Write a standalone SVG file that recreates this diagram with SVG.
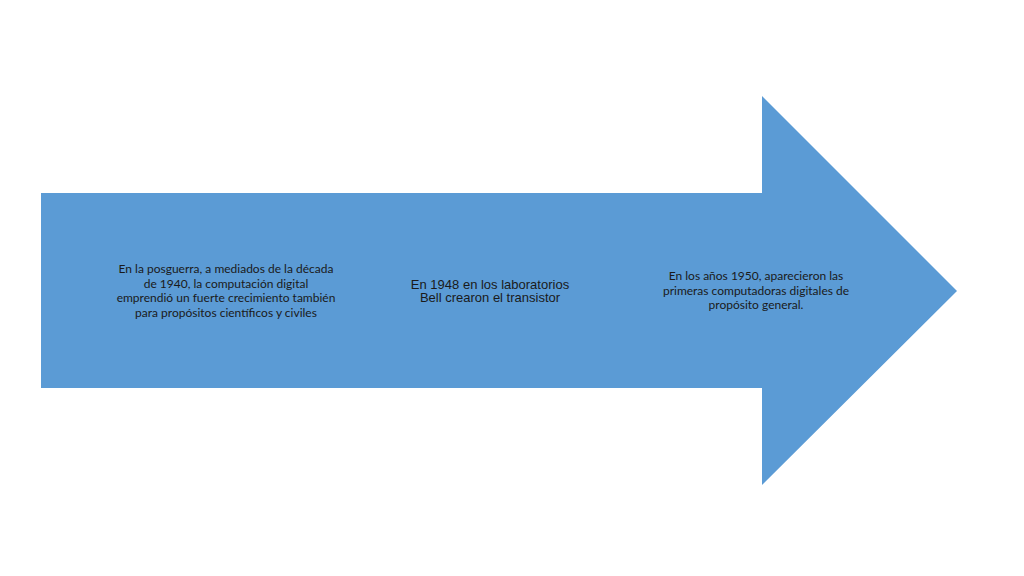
<svg xmlns="http://www.w3.org/2000/svg" width="1024" height="576" viewBox="0 0 1024 576">
<style>
.c{font-family:Lato,"Open Sans",sans-serif;font-size:12px;fill:#1a1a1a;text-anchor:middle}
.a{font-family:"Liberation Sans",Arial,sans-serif;font-size:13px;fill:#1a1a1a;text-anchor:middle}
</style>
<rect width="1024" height="576" fill="#ffffff"/>
<g id="arrow">
<polygon points="41,193 762,193 762,96 957,291 762,485 762,388 41,388" fill="#5b9bd5"/>
</g>
<g id="node1">
<text class="c" x="226" y="273">En la posguerra, a mediados de la década</text>
<text class="c" x="226" y="288">de 1940, la computación digital</text>
<text class="c" x="226" y="302">emprendió un fuerte crecimiento también</text>
<text class="c" x="226" y="317">para propósitos científicos y civiles</text>
</g>
<g id="node2">
<text class="a" x="490" y="289">En 1948 en los laboratorios</text>
<text class="a" x="490" y="302">Bell crearon el transistor</text>
</g>
<g id="node3">
<text class="c" x="756" y="280">En los años 1950, aparecieron las</text>
<text class="c" x="756" y="295">primeras computadoras digitales de</text>
<text class="c" x="756" y="309">propósito general.</text>
</g>
<g id="connectors"></g>
</svg>
